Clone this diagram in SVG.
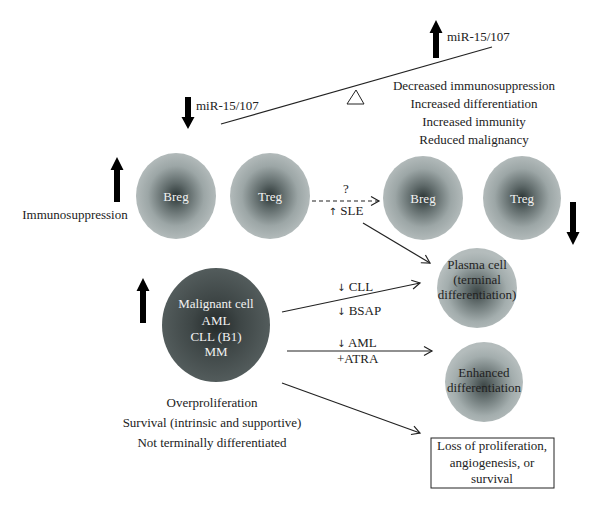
<svg xmlns="http://www.w3.org/2000/svg" width="600" height="509" viewBox="0 0 600 509" font-family="'Liberation Serif', 'Times New Roman', serif">
<style>
text{font-family:"Liberation Serif","Times New Roman",serif;font-size:13px;fill:#222}
.c{text-anchor:middle}
.w{fill:#f2f2f2}
.ar{font-family:"DejaVu Sans","Liberation Sans",sans-serif;font-size:10px}
.ln{stroke:#222;stroke-width:1.2;fill:none}
.big{fill:#000}
</style>
<defs>
<radialGradient id="gl" cx="50%" cy="50%" r="50%">
<stop offset="0" stop-color="#2b3535"/>
<stop offset="0.3" stop-color="#5f6a6a"/>
<stop offset="0.7" stop-color="#9ca6a6"/>
<stop offset="1" stop-color="#b2baba"/>
</radialGradient>
<radialGradient id="gp" cx="50%" cy="55%" r="50%">
<stop offset="0" stop-color="#3d4747"/>
<stop offset="0.35" stop-color="#6d7878"/>
<stop offset="0.75" stop-color="#a3adad"/>
<stop offset="1" stop-color="#b4bcbc"/>
</radialGradient>
<radialGradient id="gm" cx="50%" cy="50%" r="50%">
<stop offset="0" stop-color="#242a2a"/>
<stop offset="0.45" stop-color="#3e4646"/>
<stop offset="1" stop-color="#535c5c"/>
</radialGradient>
<marker id="ah" markerWidth="12" markerHeight="12" refX="10" refY="6" orient="auto" markerUnits="userSpaceOnUse">
<path d="M2,1.5 L10,6 L2,10.5" fill="none" stroke="#222" stroke-width="1.2"/>
</marker>
</defs>

<g id="seesaw">
<line x1="221" y1="124" x2="492" y2="47" stroke="#222" stroke-width="1.2"/>
<polygon points="356,90 347,104 364,104" fill="#fff" stroke="#222" stroke-width="1"/>
</g>

<g id="mir-up">
<path class="big" d="M436,20 L442.5,33 L439,33 L439,58 L433,58 L433,33 L429.5,33 Z"/>
<text x="447" y="41">miR-15/107</text>
</g>
<g id="mir-down">
<path class="big" d="M188,129 L194.5,117 L191,117 L191,97 L185,97 L185,117 L181.5,117 Z"/>
<text x="196" y="110">miR-15/107</text>
</g>

<g id="outcomes">
<text class="c" x="474" y="90">Decreased immunosuppression</text>
<text class="c" x="474" y="108">Increased differentiation</text>
<text class="c" x="474" y="126">Increased immunity</text>
<text class="c" x="474" y="144">Reduced malignancy</text>
</g>

<g id="immunosuppression">
<path class="big" d="M117,157 L123.5,170 L120,170 L120,202 L114,202 L114,170 L110.5,170 Z"/>
<text class="c" x="75" y="219">Immunosuppression</text>
</g>

<g id="breg-left">
<ellipse cx="176" cy="196" rx="40" ry="43" fill="url(#gl)"/>
<text class="c w" x="176" y="201">Breg</text>
</g>
<g id="treg-left">
<ellipse cx="270" cy="196" rx="40" ry="43" fill="url(#gl)"/>
<text class="c w" x="270" y="201">Treg</text>
</g>
<g id="breg-right">
<ellipse cx="423" cy="198" rx="40" ry="42" fill="url(#gl)"/>
<text class="c w" x="423" y="203">Breg</text>
</g>
<g id="treg-right">
<ellipse cx="522" cy="198" rx="39" ry="42" fill="url(#gl)"/>
<text class="c w" x="522" y="203">Treg</text>
</g>
<g id="down-right">
<path class="big" d="M573,245 L579.5,232 L576,232 L576,202 L570,202 L570,232 L566.5,232 Z"/>
</g>

<g id="malignant">
<path class="big" d="M143,278 L149.5,291 L146,291 L146,323 L140,323 L140,291 L136.5,291 Z"/>
<ellipse cx="216" cy="325" rx="54" ry="57" fill="url(#gm)"/>
<text class="c w" x="216" y="308">Malignant cell</text>
<text class="c w" x="216" y="325">AML</text>
<text class="c w" x="216" y="341">CLL (B1)</text>
<text class="c w" x="216" y="356">MM</text>
</g>

<g id="malignant-traits">
<text class="c" x="212" y="407">Overproliferation</text>
<text class="c" x="212" y="427">Survival (intrinsic and supportive)</text>
<text class="c" x="212" y="447">Not terminally differentiated</text>
</g>

<g id="plasma">
<ellipse cx="477" cy="288" rx="40" ry="40" fill="url(#gp)"/>
<text class="c" x="477" y="269">Plasma cell</text>
<text class="c" x="477" y="284">(terminal</text>
<text class="c" x="477" y="299">differentiation)</text>
</g>

<g id="enhanced">
<ellipse cx="484" cy="382" rx="39" ry="40" fill="url(#gp)"/>
<text class="c" x="484" y="377">Enhanced</text>
<text class="c" x="484" y="392">differentiation</text>
</g>

<g id="loss">
<rect x="431" y="438" width="123" height="50" fill="#fff" stroke="#222" stroke-width="1"/>
<text class="c" x="492" y="450">Loss of proliferation,</text>
<text class="c" x="492" y="467">angiogenesis, or</text>
<text class="c" x="492" y="483">survival</text>
</g>

<g id="connectors">
<line class="ln" x1="312" y1="201" x2="379" y2="201" stroke-dasharray="4,3" marker-end="url(#ah)"/>
<line class="ln" x1="363" y1="223" x2="430" y2="263" marker-end="url(#ah)"/>
<line class="ln" x1="282" y1="312" x2="420" y2="283" marker-end="url(#ah)"/>
<line class="ln" x1="287" y1="351" x2="432" y2="351" marker-end="url(#ah)"/>
<line class="ln" x1="282" y1="383" x2="420" y2="433" marker-end="url(#ah)"/>
</g>

<g id="labels">
<text class="c" x="346" y="193">?</text>
<text class="c" x="346" y="215"><tspan class="ar">↑</tspan> SLE</text>
<text x="337" y="291"><tspan class="ar">↓</tspan> CLL</text>
<text x="337" y="315"><tspan class="ar">↓</tspan> BSAP</text>
<text x="337" y="347"><tspan class="ar">↓</tspan> AML</text>
<text x="337" y="363">+ATRA</text>
</g>
</svg>
